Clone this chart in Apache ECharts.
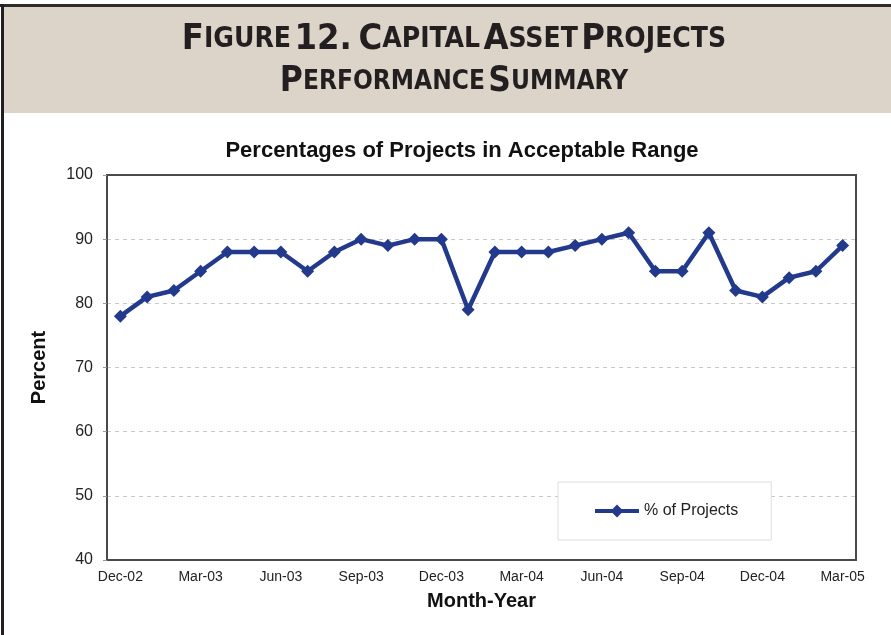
<!DOCTYPE html>
<html>
<head>
<meta charset="utf-8">
<script src="https://cdn.jsdelivr.net/npm/echarts@6/dist/echarts.min.js"></script>
<style>
  html, body { margin: 0; padding: 0; background: #fff; }
  #main { width: 891px; height: 635px; }
</style>
</head>
<body>
<div id="main"></div>
<script>
var months = ['Dec-02','Jan-03','Feb-03','Mar-03','Apr-03','May-03','Jun-03','Jul-03','Aug-03','Sep-03','Oct-03','Nov-03',
  'Dec-03','Jan-04','Feb-04','Mar-04','Apr-04','May-04','Jun-04','Jul-04','Aug-04','Sep-04','Oct-04','Nov-04',
  'Dec-04','Jan-05','Feb-05','Mar-05'];
var pctProjects = [78, 81, 82, 85, 88, 88, 88, 85, 88, 90, 89, 90,
  90, 79, 88, 88, 88, 89, 90, 91, 85, 85, 91, 82,
  81, 84, 85, 89];
var yTicks = [40, 50, 60, 70, 80, 90, 100];

var myChart = echarts.init(document.getElementById('main'));

var headFont = '"DejaVu Sans Condensed", sans-serif';
var big = { fontFamily: headFont, fontWeight: 'bold', fontSize: 36, fill: '#231f20' };
var small = { fontFamily: headFont, fontWeight: 'bold', fontSize: 28, fill: '#231f20' };
var big2 = { fontFamily: headFont, fontWeight: 'bold', fontSize: 35, fill: '#231f20' };
var small2 = { fontFamily: headFont, fontWeight: 'bold', fontSize: 26, fill: '#231f20' };
var arial = 'Liberation Sans, Arial, sans-serif';

var option = {
  backgroundColor: '#fff',
  animation: false,
  graphic: [
    { type: 'rect', shape: { x: 4, y: 7, width: 887, height: 106 }, style: { fill: '#dcd4c8' } },
    { type: 'rect', shape: { x: 0, y: 4, width: 891, height: 3 }, style: { fill: '#2e2b2b' } },
    { type: 'rect', shape: { x: 1, y: 4, width: 3, height: 631 }, style: { fill: '#231f20' } },
    {
      type: 'text', x: 454, y: 40,
      style: {
        text: '{b|F}{s|IGURE} {b|12.}  {b|C}{s|APITAL} {b|A}{s|SSET} {b|P}{s|ROJECTS}',
        rich: { b: big, s: small },
        align: 'center', verticalAlign: 'middle'
      }
    },
    {
      type: 'text', x: 454, y: 82,
      style: {
        text: '{b|P}{s|ERFORMANCE} {b|S}{s|UMMARY}',
        rich: { b: big2, s: small2 },
        align: 'center', verticalAlign: 'middle'
      }
    }
  ],
  title: {
    text: 'Percentages of Projects in Acceptable Range',
    left: 457, top: 135,
    textAlign: 'center',
    textStyle: { fontFamily: arial, fontWeight: 'bold', fontSize: 22, color: '#111' }
  },
  legend: {
    left: 558, top: 482,
    padding: [21, 33, 21, 35],
    backgroundColor: '#fff',
    borderColor: '#dedede',
    borderWidth: 1,
    itemWidth: 44, itemHeight: 16,
    itemGap: 4,
    itemStyle: { color: '#233a8c' },
    lineStyle: { color: '#233a8c', width: 4 },
    textStyle: { fontFamily: arial, fontSize: 16, color: '#222' },
    data: ['% of Projects']
  },
  grid: {
    left: 107, right: 35, top: 175, bottom: 75,
    show: true, borderColor: '#4a4a4a', borderWidth: 2, backgroundColor: '#fff'
  },
  xAxis: {
    type: 'category',
    data: months,
    boundaryGap: true,
    name: 'Month-Year',
    nameLocation: 'middle',
    nameGap: 31,
    nameTextStyle: { fontFamily: arial, fontWeight: 'bold', fontSize: 20, color: '#111' },
    axisLine: { lineStyle: { color: '#4a4a4a', width: 2 } },
    axisTick: { interval: 2, length: 3, lineStyle: { color: '#999' } },
    axisLabel: { interval: 2, margin: 10, fontFamily: arial, fontSize: 14, color: '#222' },
    splitLine: { show: false }
  },
  yAxis: {
    type: 'value',
    min: yTicks[0], max: yTicks[yTicks.length - 1], interval: 10,
    name: 'Percent',
    nameLocation: 'middle',
    nameGap: 58,
    nameTextStyle: { fontFamily: arial, fontWeight: 'bold', fontSize: 20, color: '#111' },
    axisLine: { show: true, lineStyle: { color: '#4a4a4a', width: 2 } },
    axisTick: { show: true, length: 4, lineStyle: { color: '#999' } },
    axisLabel: { margin: 14, fontFamily: arial, fontSize: 16, color: '#222' },
    splitLine: {
      show: true,
      lineStyle: { color: '#c8c8c8', type: [4, 4], width: 1 },
      showMinLine: false, showMaxLine: false
    }
  },
  series: [{
    name: '% of Projects',
    type: 'line',
    data: pctProjects,
    symbol: 'diamond',
    symbolSize: 13,
    lineStyle: { color: '#233a8c', width: 4.5 },
    itemStyle: { color: '#233a8c' }
  }]
};
myChart.setOption(option);
</script>
</body>
</html>
